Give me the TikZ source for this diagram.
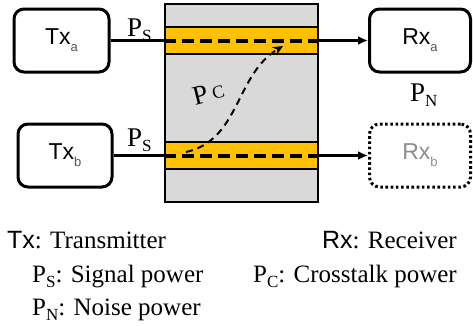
\documentclass[tikz,border=0pt]{standalone}
\usepackage{fontspec}
\setmainfont{Liberation Serif}
\setsansfont{Liberation Sans}
\usetikzlibrary{arrows.meta}
\definecolor{bandyellow}{HTML}{FFC000}
\definecolor{chgray}{HTML}{D9D9D9}
\definecolor{subgray}{HTML}{555555}
\definecolor{ghost}{HTML}{8C8C8C}
\newcommand\mysub[1]{\raisebox{-0.22em}{\fontsize{17}{17}\selectfont #1}}
\newcommand\boxsub[1]{\raisebox{-0.3em}{\fontsize{13}{13}\selectfont #1}}
\begin{document}
\begin{tikzpicture}[x=1pt,y=-1pt,
  unitbox/.style={draw, line width=3pt, rounded corners=10pt, inner sep=0pt,
    minimum width=95pt, minimum height=63pt, font=\sffamily\fontsize{23}{25}\selectfont},
  ghostbox/.style={unitbox, dash pattern=on 2.6pt off 2.6pt, text=ghost},
  band/.style={draw, fill=bandyellow, line width=1.5pt, minimum width=153pt,
    minimum height=27pt, inner sep=0pt},
  fiber/.style={line width=4pt, dash pattern=on 12pt off 6pt},
  sig/.style={line width=2.8pt},
  sigarrow/.style={sig, -{Latex[length=10pt,width=9pt]}},
  xtalk/.style={line width=2pt, dash pattern=on 7pt off 5pt, -{Stealth[length=10pt,width=9pt]}},
  plabel/.style={anchor=base west, inner sep=0pt, font=\fontsize{27}{30}\selectfont},
  legend/.style={inner sep=0pt, font=\fontsize{25}{30}\selectfont}]
\useasboundingbox (0,0) rectangle (473,325);

% channel
\node[draw, fill=chgray, line width=2pt, minimum width=153pt, minimum height=198pt, inner sep=0pt] (chan) at (241.5,103) {};
\node[band] (topband) at (241.5,40.5) {};
\node[band] (botband) at (241.5,155.5) {};
\draw[fiber] (topband.west) -- (topband.east);
\draw[fiber] (botband.west) -- (botband.east);

% units
\node[unitbox] (txa) at (61.5,40.5) {Tx\boxsub{\color{subgray}a}};
\node[unitbox, minimum width=94pt] (txb) at (65,155.5) {Tx\boxsub{\color{subgray}b}};
\node[unitbox, minimum width=101pt] (rxa) at (420,40.5) {Rx\boxsub{\color{subgray}a}};
\node[ghostbox, minimum width=101pt] (rxb) at (420,155.5) {Rx\boxsub{b}};

% signal connectors
\draw[sig] (txa.east) -- (topband.west);
\draw[sig] (txb.east) -- (botband.west);
\draw[sigarrow] (topband.east) -- (rxa.west);
\draw[sigarrow] (botband.east) -- (rxb.west);

% crosstalk
\coordinate (xs) at (186,152);
\coordinate (xe) at (283,46);
\draw[xtalk] (xs) .. controls (240,140) and (235,75) .. (xe);

% power labels
\node[plabel] (ps1) at (127,36) {P\mysub{S}};
\node[plabel] (ps2) at (127,146) {P\mysub{S}};
\node[plabel] (pn) at (410,101) {P\mysub{N}};
\node[plabel, rotate=14] (pc) at (195,106) {P\,\raisebox{0.05em}{\fontsize{18}{18}\selectfont C}};

% legend
\node[legend, anchor=base west] (ltx) at (7,248) {\textsf{Tx}: Transmitter};
\node[legend, anchor=base east] (lrx) at (457,248) {\textsf{Rx}: Receiver};
\node[legend, anchor=base west] (lps) at (32,282) {P\mysub{S}: Signal power};
\node[legend, anchor=base east] (lpc) at (457,282) {P\mysub{C}: Crosstalk power};
\node[legend, anchor=base west] (lpn) at (32,315) {P\mysub{N}: Noise power};
\end{tikzpicture}
\end{document}
